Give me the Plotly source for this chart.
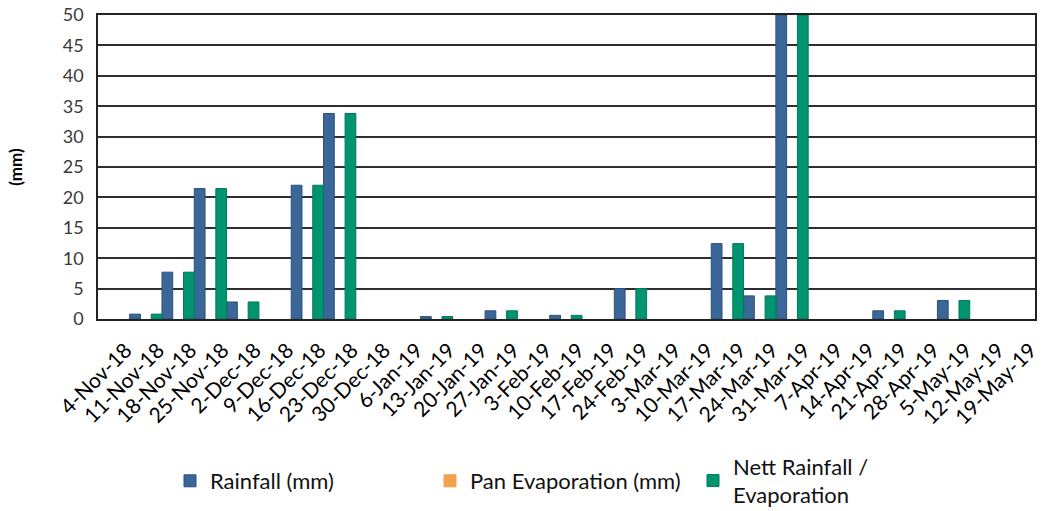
import plotly.graph_objects as go

# Weekly rainfall record, Nov 2018 - May 2019
weeks = [
    "4-Nov-18", "11-Nov-18", "18-Nov-18", "25-Nov-18", "2-Dec-18", "9-Dec-18",
    "16-Dec-18", "23-Dec-18", "30-Dec-18", "6-Jan-19", "13-Jan-19", "20-Jan-19",
    "27-Jan-19", "3-Feb-19", "10-Feb-19", "17-Feb-19", "24-Feb-19", "3-Mar-19",
    "10-Mar-19", "17-Mar-19", "24-Mar-19", "31-Mar-19", "7-Apr-19", "14-Apr-19",
    "21-Apr-19", "28-Apr-19", "5-May-19", "12-May-19", "19-May-19",
]

rainfall = [0.8, 7.7, 21.45, 2.8, 0, 22.0, 33.8, 0, 0, 0.4, 0, 1.35, 0, 0.6, 0,
            5.0, 0, 0, 12.4, 3.8, 50, 0, 0, 1.35, 0, 3.05, 0, 0, 0]
pan_evaporation = [0] * 29
nett_rainfall = [0.8, 7.7, 21.45, 2.8, 0, 22.0, 33.8, 0, 0, 0.4, 0, 1.35, 0, 0.6, 0,
                 5.0, 0, 0, 12.4, 3.8, 50, 0, 0, 1.35, 0, 3.05, 0, 0, 0]

y_ticks = list(range(0, 55, 5))

BLUE = "#3b6699"
ORANGE = "#f2a24f"
GREEN = "#009471"
FONT = "Lato"

# name, values, fill, outline, bar offset within the week, legend id, legend x (px)
series = [
    ("Rainfall (mm)", rainfall, BLUE, "#2d5079", 0.12, "legend", 170),
    ("Pan Evaporation (mm)", pan_evaporation, ORANGE, ORANGE, 0.453, "legend2", 430),
    ("Nett Rainfall /<br>Evaporation", nett_rainfall, GREEN, "#00785b", 0.787, "legend3", 693),
]

fig = go.Figure()
legend_layouts = {}
for name, vals, fill, edge, off, leg, lx in series:
    fig.add_trace(go.Bar(
        x=weeks, y=[v if v else None for v in vals], name=name,
        marker=dict(color=fill, line=dict(color=edge, width=1)),
        offset=off, width=0.333, legend=leg, showlegend=True,
    ))
    legend_layouts[leg] = dict(
        orientation="h", xref="container", yref="container",
        x=lx / 1044, y=1 - 481 / 511, xanchor="left", yanchor="middle",
        font=dict(family=FONT, size=22, color="#111111"),
        valign="middle", bgcolor="rgba(0,0,0,0)",
    )

fig.update_layout(
    width=1044, height=511,
    margin=dict(l=98, r=3, t=13, b=192),
    paper_bgcolor="white", plot_bgcolor="white",
    barmode="overlay",
    font=dict(family=FONT, color="#000000"),
    **legend_layouts,
)

fig.update_xaxes(
    type="category", categoryorder="array", categoryarray=weeks,
    range=[-0.86, 28.14],
    tickangle=-45, tickfont=dict(family=FONT, size=21, color="#000000"),
    showgrid=False, showline=True, linecolor="#222222", linewidth=1.5,
    mirror=True, ticks="", zeroline=False, ticklabelstandoff=9,
)

fig.update_yaxes(
    range=[0, 50], tickvals=y_ticks,
    tickfont=dict(family=FONT, size=18, color="#3a3a3a"),
    showgrid=True, gridcolor="#2e2e2e", gridwidth=1.5,
    showline=True, linecolor="#222222", linewidth=1.5, mirror=True,
    zeroline=False, ticks="", ticklabelstandoff=9,
    title=dict(text="<b>(mm)</b>", font=dict(family=FONT, size=17, color="#000000"),
               standoff=36),
)

fig.write_html("out.html")
